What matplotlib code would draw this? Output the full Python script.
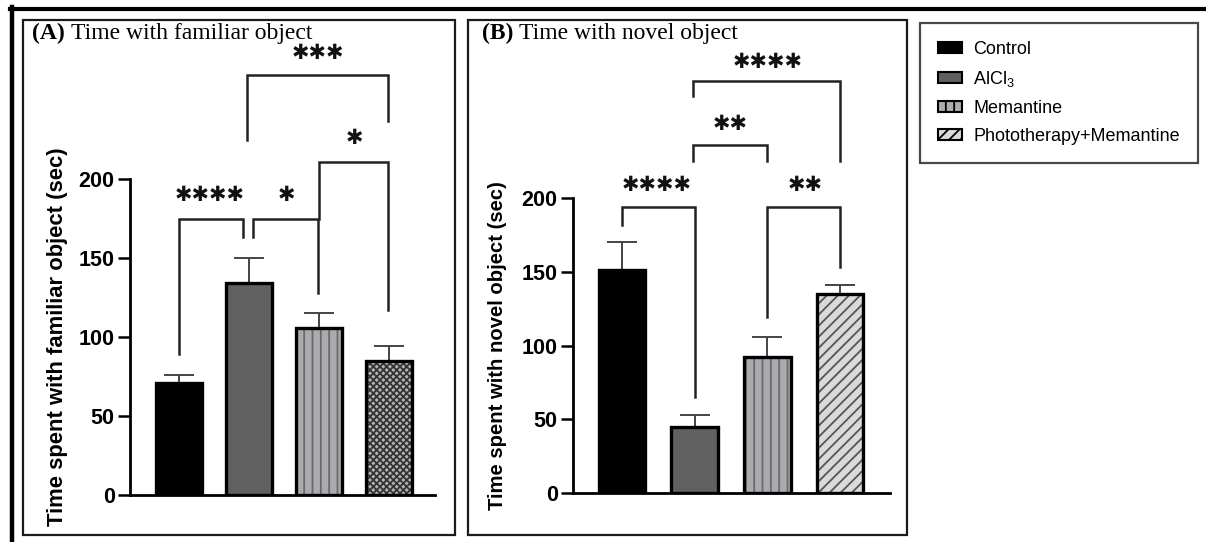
import matplotlib
matplotlib.use("Agg")
import matplotlib.pyplot as plt
from matplotlib.patches import Rectangle, Patch
from matplotlib.lines import Line2D

plt.rcParams['font.family'] = ['Liberation Sans', 'DejaVu Sans']
plt.rcParams['mathtext.fontset'] = 'custom'
plt.rcParams['mathtext.rm'] = 'Liberation Sans'
plt.rcParams['hatch.linewidth'] = 1.3

# ---------------- data ----------------
groups = ["Control", "AlCl$_3$", "Memantine", "Phototherapy+Memantine"]
familiar_mean = [71, 134, 106, 85]
familiar_err = [5, 16, 9, 9]
novel_mean = [151, 45, 92, 135]
novel_err = [19, 8, 14, 6]
ticks = [0, 50, 100, 150, 200]

# brackets: (x0, x1, top, left_bottom, right_bottom, stars, star_x, star_y)
familiar_brackets = [
    (0.0, 0.92, 175, 89, 163, "✱✱✱✱", 0.44, 190),
    (1.06, 1.98, 175, 163, 128, "✱", 1.54, 190),
    (2.0, 2.99, 211, 175, 117, "✱", 2.5, 226),
    (0.97, 2.99, 266, 225, 237, "✱✱✱", 1.99, 280),
]
novel_brackets = [
    (0.0, 1.0, 194, 182, 65, "✱✱✱✱", 0.48, 209),
    (2.0, 3.0, 194, 119, 153, "✱✱", 2.52, 209),
    (0.98, 2.0, 236, 225, 225, "✱✱", 1.49, 250),
    (0.98, 3.0, 279, 269, 225, "✱✱✱✱", 2.0, 292),
]

W, H = 1206, 542
fig = plt.figure(figsize=(W / 100, H / 100), dpi=100)


def fx(px):
    return px / W


def fy(py):
    return 1 - py / H


# outer thick border (top and left)
fig.add_artist(Line2D([fx(10), fx(1206)], [fy(8.5), fy(8.5)], color='black', lw=3.0,
                      transform=fig.transFigure))
fig.add_artist(Line2D([fx(12), fx(12)], [fy(7), fy(542)], color='black', lw=3.2,
                      transform=fig.transFigure))
# panel boxes
for (x0, y0, x1, y1) in [(23, 20, 455, 535), (468, 20, 907, 535)]:
    fig.add_artist(Rectangle((fx(x0), fy(y1)), fx(x1) - fx(x0), fy(y0) - fy(y1),
                             transform=fig.transFigure, fill=False, edgecolor='#1a1a1a', lw=1.6))

styles = [
    dict(face='#000000', hatch=None, hcol='#000000'),
    dict(face='#606060', hatch=None, hcol='#606060'),
    dict(face='#ababaf', hatch='||', hcol='#6a6a6e'),
]
photo_A = dict(face='#b4b4b4', hatch='xxxxx', hcol='#333333')
photo_B = dict(face='#dadada', hatch='///', hcol='#555555')

fig.canvas.draw()
renderer = fig.canvas.get_renderer()


def draw_panel(rect, xlim, width, means, errs, photo, brackets, ylabel, ylsize, ylx,
               title, title_pos):
    ax = fig.add_axes(rect)
    xs = list(range(len(means)))
    sts = styles + [photo]
    for i, (m, e) in enumerate(zip(means, errs)):
        st = sts[i]
        ax.errorbar(xs[i], m, yerr=[[0], [e]], fmt='none', ecolor='#444444', elinewidth=1.4,
                    capsize=11, capthick=1.4, zorder=1)
        ax.bar(xs[i], m, width=width, color=st['face'], edgecolor=st['hcol'], hatch=st['hatch'],
               linewidth=0, zorder=2)
        ax.bar(xs[i], m, width=width, fill=False, edgecolor='black', linewidth=2.4, zorder=3)
    ax.set_xlim(*xlim)
    ax.set_ylim(0, 200)
    ax.set_yticks(ticks)
    ax.set_xticks([])
    for s in ['top', 'right']:
        ax.spines[s].set_visible(False)
    ax.spines['left'].set_linewidth(2.0)
    ax.spines['bottom'].set_linewidth(2.0)
    ax.tick_params(axis='y', length=9, width=1.8, pad=2, labelsize=15.5)
    for lab in ax.get_yticklabels():
        lab.set_fontweight('bold')
    ax.set_ylabel(ylabel, fontsize=ylsize, fontweight='bold')
    ax.yaxis.set_label_coords(ylx, 0.5)
    for (x0, x1, top, lb, rb, stars, sx, sy) in brackets:
        ax.plot([x0, x0, x1, x1], [lb, top, top, rb], color='#222222', lw=1.8,
                clip_on=False, solid_joinstyle='miter', zorder=4)
        ax.text(sx, sy, stars, ha='center', va='center', fontsize=15,
                family=['DejaVu Sans'], color='#111111', clip_on=False)
    t1 = fig.text(fx(title_pos[0]), fy(title_pos[1]), title[0], fontsize=17, fontweight='bold',
                  family=['Liberation Serif'], va='baseline')
    bb = t1.get_window_extent(renderer=renderer)
    fig.text(fx(bb.x1 + 6), fy(title_pos[1]), title[1], fontsize=17,
             family=['Liberation Serif'], va='baseline')
    return ax


axA = draw_panel([fx(130), fy(495), fx(435) - fx(130), fy(179) - fy(495)], (-0.7, 3.657), 0.65,
                 familiar_mean, familiar_err, photo_A, familiar_brackets,
                 "Time spent with familiar object (sec)", 15.8, -0.203,
                 ("(A)", "Time with familiar object"), (32, 39))
axB = draw_panel([fx(573), fy(493), fx(890) - fx(573), fy(198) - fy(493)], (-0.674, 3.688), 0.646,
                 novel_mean, novel_err, photo_B, novel_brackets,
                 "Time spent with novel object (sec)", 14.6, -0.208,
                 ("(B)", "Time with novel object"), (482, 39))

# legend
handles = [Patch(facecolor=s['face'], edgecolor='black', hatch=s['hatch'], linewidth=1.5)
           for s in styles + [photo_B]]
leg = fig.legend(handles, groups, loc='upper left', bbox_to_anchor=(fx(920), fy(23)),
                 borderaxespad=0, frameon=True, fancybox=False, fontsize=13,
                 handlelength=1.35, handleheight=0.55, handletextpad=0.6,
                 labelspacing=0.6, borderpad=1.0)
leg.get_frame().set_edgecolor('#1a1a1a')
leg.get_frame().set_linewidth(1.6)

fig.savefig("out.png", dpi=100)
